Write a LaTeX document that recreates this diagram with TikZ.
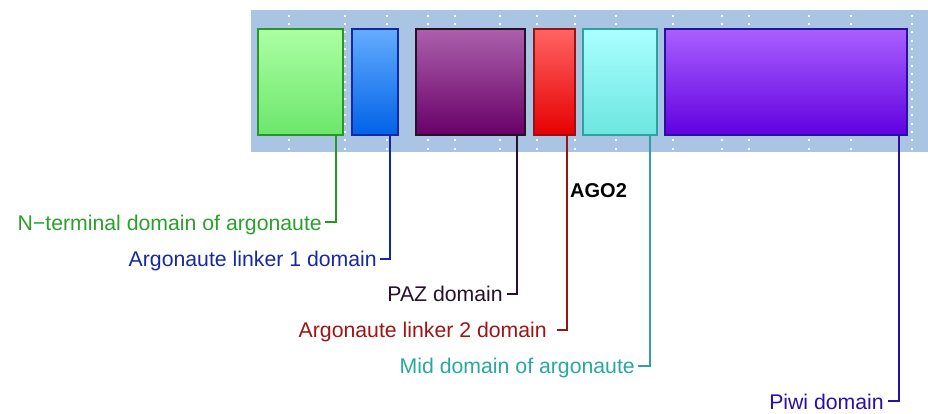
\documentclass[tikz,border=0pt]{standalone}
\usepackage{fontspec}
\setmainfont{Liberation Sans}
\definecolor{bgblue}{RGB}{170,196,228}
\definecolor{gTop}{RGB}{172,255,162}\definecolor{gBot}{RGB}{108,230,108}\definecolor{gLine}{RGB}{40,150,40}\definecolor{gTxt}{RGB}{42,160,42}
\definecolor{bTop}{RGB}{100,172,255}\definecolor{bBot}{RGB}{0,98,230}\definecolor{bLine}{RGB}{16,40,170}\definecolor{bTxt}{RGB}{22,40,162}
\definecolor{pTop}{RGB}{172,96,172}\definecolor{pBot}{RGB}{104,0,104}\definecolor{pLine}{RGB}{40,16,40}\definecolor{pTxt}{RGB}{40,16,40}
\definecolor{rTop}{RGB}{255,100,100}\definecolor{rBot}{RGB}{230,0,0}\definecolor{rLine}{RGB}{150,20,20}\definecolor{rTxt}{RGB}{160,20,20}
\definecolor{cTop}{RGB}{170,255,255}\definecolor{cBot}{RGB}{108,230,224}\definecolor{cLine}{RGB}{48,160,160}\definecolor{cTxt}{RGB}{40,168,160}
\definecolor{vTop}{RGB}{170,96,255}\definecolor{vBot}{RGB}{96,0,224}\definecolor{vLine}{RGB}{40,16,160}\definecolor{vTxt}{RGB}{40,16,168}
\tikzset{
  dombox/.style={anchor=north west, inner sep=0pt, line width=2pt, minimum height=106pt},
  conn/.style={line width=2pt},
  lbl/.style={anchor=base east, inner sep=0pt, font=\fontsize{21.25}{25}\selectfont},
  griddots/.style={white, line width=2pt, dash pattern=on 2pt off 6.3pt}
}
\begin{document}
\begin{tikzpicture}[x=1pt,y=-1pt]
\useasboundingbox (0,0) rectangle (928,413);
\fill[bgblue] (251,10) rectangle (928,152);
\foreach \x in {289,345,387,428,455,500,537,575,616,673,722,749,809,851,912}
  \draw[griddots] (\x,14.7) -- (\x,151);
% domain boxes
\node[dombox, draw=gLine, top color=gTop, bottom color=gBot, minimum width=85pt] (ntd) at (257,28) {};
\node[dombox, draw=bLine, top color=bTop, bottom color=bBot, minimum width=46pt] (l1) at (351,28) {};
\node[dombox, draw=pLine, top color=pTop, bottom color=pBot, minimum width=109pt] (paz) at (415,28) {};
\node[dombox, draw=rLine, top color=rTop, bottom color=rBot, minimum width=41pt] (l2) at (533,28) {};
\node[dombox, draw=cLine, top color=cTop, bottom color=cBot, minimum width=74pt] (mid) at (582,28) {};
\node[dombox, draw=vLine, top color=vTop, bottom color=vBot, minimum width=242pt] (piwi) at (664,28) {};
% connector ends
\coordinate (tN) at (336,135); \coordinate (eN) at (325,222);
\coordinate (tB) at (390,135); \coordinate (eB) at (380,259);
\coordinate (tP) at (517,135); \coordinate (eP) at (507,294);
\coordinate (tR) at (567,135); \coordinate (eR) at (557,330);
\coordinate (tC) at (650,135); \coordinate (eC) at (638,366);
\coordinate (tV) at (899,135); \coordinate (eV) at (888,401);
% labels
\node[lbl, text=gTxt] (lN) at ([xshift=-3pt,yshift=-8pt]eN) {N−terminal domain of argonaute};
\node[lbl, text=bTxt] (lB) at ([xshift=-3pt,yshift=-7.5pt]eB) {Argonaute linker 1 domain};
\node[lbl, text=pTxt] (lP) at ([xshift=-4pt,yshift=-7.5pt]eP) {PAZ domain};
\node[lbl, text=rTxt] (lR) at ([xshift=-10pt,yshift=-7.5pt]eR) {Argonaute linker 2 domain};
\node[lbl, text=cTxt] (lC) at ([xshift=-3pt,yshift=-7pt]eC) {Mid domain of argonaute};
\node[lbl, text=vTxt] (lV) at ([xshift=-4pt,yshift=-8pt]eV) {Piwi domain};
\node[anchor=base west, inner sep=0pt, font=\fontsize{20}{24}\selectfont\bfseries] (ago) at (570,197) {AGO2};
% connectors
\draw[conn, gLine] (tN) |- (eN);
\draw[conn, bLine] (tB) |- (eB);
\draw[conn, pLine] (tP) |- (eP);
\draw[conn, rLine] (tR) |- (eR);
\draw[conn, cLine] (tC) |- (eC);
\draw[conn, vLine] (tV) |- (eV);
\end{tikzpicture}
\end{document}
